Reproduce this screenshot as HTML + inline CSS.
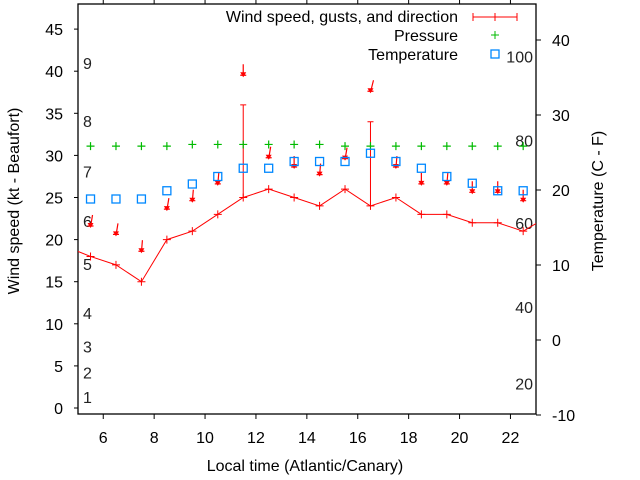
<!DOCTYPE html>
<html><head><meta charset="utf-8">
<style>
body{margin:0;background:#fff;}
svg{display:block;font-family:"Liberation Sans",sans-serif;}
</style></head>
<body>
<svg id="chart" width="640" height="480" viewBox="0 0 640 480" xmlns="http://www.w3.org/2000/svg">
<rect width="640" height="480" fill="#fff"/>
<g id="axes"></g>
<g id="marks"></g>
<text x="0" y="0" transform="translate(19,201) rotate(-90)" text-anchor="middle" font-size="16">Wind speed (kt - Beaufort)</text>
<text x="0" y="0" transform="translate(603,201) rotate(-90)" text-anchor="middle" font-size="16">Temperature (C - F)</text>
<text x="305" y="471" text-anchor="middle" font-size="16">Local time (Atlantic/Canary)</text>
<g>
<text x="458" y="22" text-anchor="end" font-size="16">Wind speed, gusts, and direction</text>
<line x1="473" y1="17" x2="517" y2="17" stroke="#f00" stroke-width="1"/>
<line x1="473" y1="13" x2="473" y2="21" stroke="#f00"/><line x1="517" y1="13" x2="517" y2="21" stroke="#f00"/>
<line x1="491" y1="17" x2="499" y2="17" stroke="#f00"/><line x1="495" y1="13" x2="495" y2="21" stroke="#f00"/>
<text x="458" y="41" text-anchor="end" font-size="16">Pressure</text>
<line x1="491" y1="35" x2="499" y2="35" stroke="#0b0"/><line x1="495" y1="31" x2="495" y2="39" stroke="#0b0"/>
<text x="458" y="60" text-anchor="end" font-size="16">Temperature</text>
<rect x="491" y="50" width="8" height="8" fill="none" stroke="#08f" stroke-width="1.3"/>
</g>
</svg>
<script>
const hours=[5.5,6.5,7.5,8.5,9.5,10.5,11.5,12.5,13.5,14.5,15.5,16.5,17.5,18.5,19.5,20.5,21.5,22.5];
const windHours=[4.5,5.5,6.5,7.5,8.5,9.5,10.5,11.5,12.5,13.5,14.5,15.5,16.5,17.5,18.5,19.5,20.5,21.5,22.5,23.5];
const windSpeed=[19.2,18,17,15,20,21,23,25,26,25,24,26,24,25,23,23,22,22,21,22.8];
const gustHours=[11.5,16.5];
const gustBase=[25,24];
const gustTop=[36,34];
const dirValue=[21.5,20.5,18.5,23.5,24.5,26.5,39.4,29.6,28.5,27.6,29.5,37.5,28.5,26.5,26.5,25.5,25.5,24.5];
const dirDx=[2,2,1,2,1,1,0,2,0,1,2,3,1,0,1,0,0,0];
const pressure=[31.1,31.1,31.1,31.1,31.3,31.3,31.3,31.3,31.3,31.3,31.1,31.1,31.1,31.1,31.1,31.1,31.1,31.1];
const temperature=[18.8,18.8,18.8,19.9,20.8,21.8,22.9,22.9,23.8,23.8,23.8,24.9,23.8,22.9,21.8,20.9,19.9,19.9];
const xTicks=[6,8,10,12,14,16,18,20,22];
const yTicks=[0,5,10,15,20,25,30,35,40,45];
const y2Ticks=[-10,0,10,20,30,40];
const beaufort=[[1,1.3],[2,4.2],[3,7.3],[4,11.3],[5,17.1],[6,22.2],[7,28.1],[8,34.1],[9,41]];
const fahrenheit=[[20,-5.8],[40,4.4],[60,15.6],[80,26.6],[100,37.8]];

const L=78,R=536,T=4,B=414;
const X=h=>77.8+(h-5)*25.45;
const Y=v=>408-v*8.42;
const Y2=t=>340-t*7.5;
const NS="http://www.w3.org/2000/svg";
const ax=document.getElementById('axes'),mk=document.getElementById('marks');
function el(tag,attrs,parent,txt){const e=document.createElementNS(NS,tag);for(const k in attrs)e.setAttribute(k,attrs[k]);if(txt!==undefined)e.textContent=txt;parent.appendChild(e);return e;}

const frame=el('rect',{x:L,y:T,width:R-L,height:B-T,fill:'none',stroke:'#000','stroke-width':1.3},ax);


xTicks.forEach(t=>{
  const x=X(t);
  el('line',{x1:x,y1:B,x2:x,y2:B+5,stroke:'#000'},ax);
  el('line',{x1:x,y1:T,x2:x,y2:T-4,stroke:'#000'},ax);
  const tx=el('text',{x:x,y:443,'text-anchor':'middle','font-size':16},ax,String(t));
  
  
});
yTicks.forEach(t=>{
  const y=Y(t);
  el('line',{x1:L-4,y1:y,x2:L,y2:y,stroke:'#000'},ax);
  const tx=el('text',{x:63,y:y+6,'text-anchor':'end','font-size':16},ax,String(t));
  
  
});
y2Ticks.forEach(t=>{
  const y=Y2(t);
  el('line',{x1:R,y1:y,x2:R+5,y2:y,stroke:'#000'},ax);
  const tx=el('text',{x:552,y:y+6,'text-anchor':'start','font-size':16},ax,String(t));
  
  
});
beaufort.forEach(([n,v])=>{
  const tx=el('text',{x:83,y:Y(v)+6,'font-size':16,fill:'#222'},ax,String(n));
  
  
});
fahrenheit.forEach(([f,t])=>{
  const tx=el('text',{x:533,y:Y2(t)+6,'text-anchor':'end','font-size':16,fill:'#222'},ax,String(f));
  
  
});

const defs=el('defs',{},mk);
const cp=el('clipPath',{id:'clip'},defs);
el('rect',{x:L,y:T,width:R-L,height:B-T},cp);
const g=el('g',{'clip-path':'url(#clip)'},mk);

const pts=windHours.map((h,i)=>X(h)+','+Y(windSpeed[i])).join(' ');
const line=el('polyline',{points:pts,fill:'none',stroke:'#f00','stroke-width':1},g);


windHours.forEach((h,i)=>{
  const x=X(h),y=Y(windSpeed[i]);
  const p=el('path',{d:`M${x-4},${y}H${x+4}M${x},${y-4}V${y+4}`,stroke:'#f00','stroke-width':1},g);
  
  
});
gustHours.forEach((h,i)=>{
  const x=X(h),y1=Y(gustBase[i]),y2=Y(gustTop[i]);
  const p=el('path',{d:`M${x},${y1}V${y2}M${x-3},${y2}H${x+3}`,stroke:'#f00','stroke-width':1},g);
  
  
});
hours.forEach((h,i)=>{
  const x=X(h),y=Y(dirValue[i]),dx=dirDx[i];
  const p=el('path',{d:`M${x+dx},${y-12}L${x},${y}M${x-3},${y-1}H${x+3}`,stroke:'#f00','stroke-width':1.2,fill:'none'},g);
  
  
  const hd=el('path',{d:`M${x-3},${y-4}L${x+3},${y-4}L${x},${y+1}Z`,fill:'#f00'},g);
  
  
});
hours.forEach((h,i)=>{
  const x=X(h),y=Y(pressure[i]);
  const p=el('path',{d:`M${x-4},${y}H${x+4}M${x},${y-4}V${y+4}`,stroke:'#0b0','stroke-width':1.2},g);
  
  
});
hours.forEach((h,i)=>{
  const x=X(h),y=Y2(temperature[i]);
  const r=el('rect',{x:x-4,y:y-4,width:8,height:8,fill:'none',stroke:'#08f','stroke-width':1.3},g);
  
  
});
</script>
</body></html>
